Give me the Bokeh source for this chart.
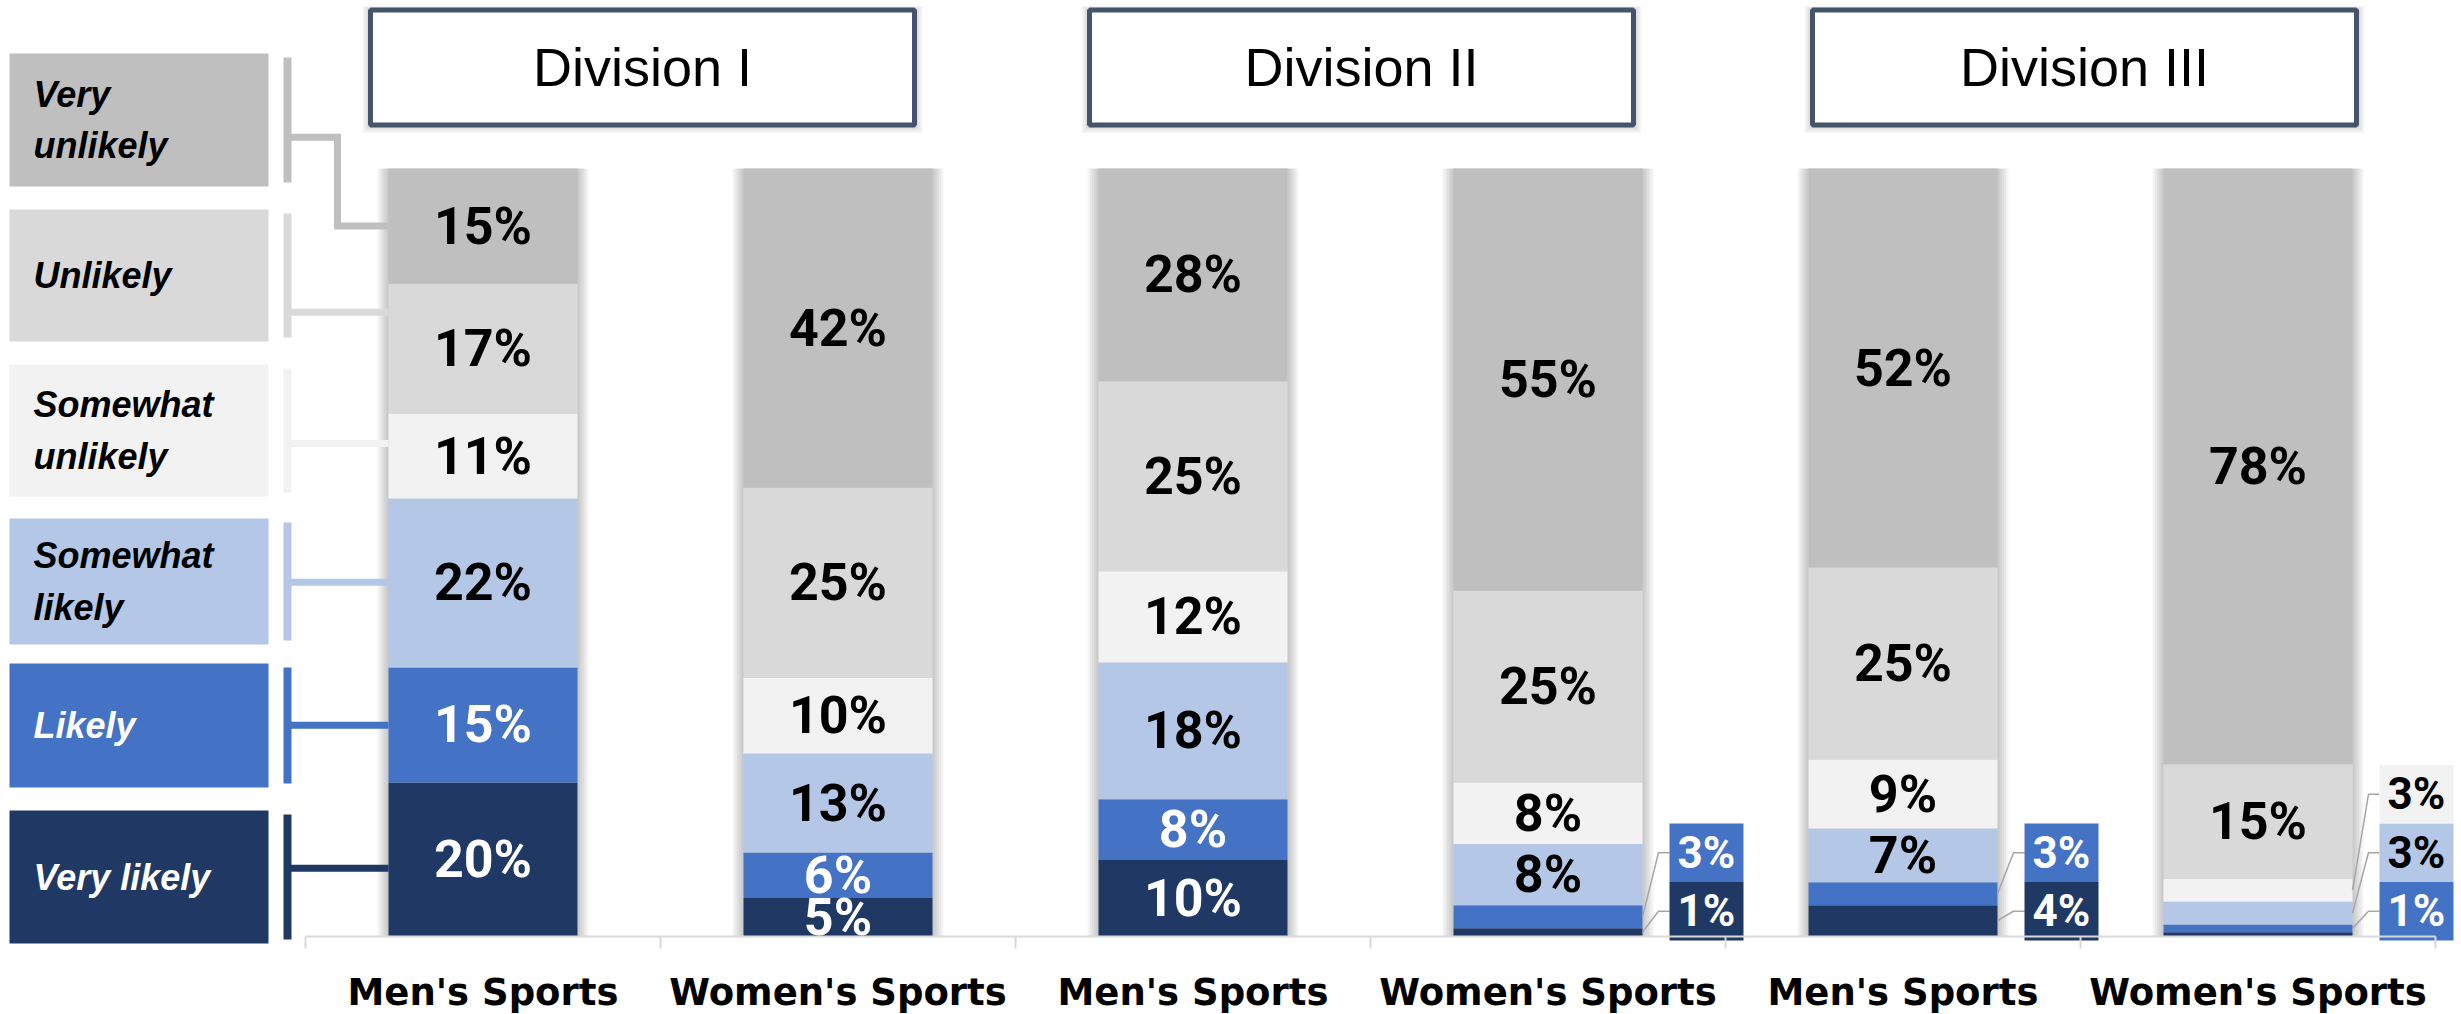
from bokeh.plotting import figure
from bokeh.models import Range1d, FixedTicker, ColumnDataSource
from bokeh.core.properties import value
from bokeh.embed import file_html
from bokeh.resources import INLINE

# ------------------------------------------------------------------ data
divisions = ["Division I", "Division II", "Division III"]
groups = ["Men's Sports", "Women's Sports", "Men's Sports",
          "Women's Sports", "Men's Sports", "Women's Sports"]
# stacking order: bottom -> top
levels = ["Very likely", "Likely", "Somewhat likely",
          "Somewhat unlikely", "Unlikely", "Very unlikely"]
legend_labels = ["Very likely", "Likely", "Somewhat\nlikely",
                 "Somewhat\nunlikely", "Unlikely", "Very\nunlikely"]

very_likely       = [20, 5, 10, 1, 4, 0.5]
likely            = [15, 6, 8, 3, 3, 1]
somewhat_likely   = [22, 13, 18, 8, 7, 3]
somewhat_unlikely = [11, 10, 12, 8, 9, 3]
unlikely          = [17, 25, 25, 25, 25, 15]
very_unlikely     = [15, 42, 28, 55, 52, 78]

series = [very_likely, likely, somewhat_likely,
          somewhat_unlikely, unlikely, very_unlikely]

# ------------------------------------------------------------------ style
colors = ["#203864", "#4472C4", "#B4C7E7", "#F2F2F2", "#D9D9D9", "#BFBFBF"]
text_colors = ["white", "white", "black", "black", "black", "black"]
BORDER = "#44546A"
LEADER = "#A6A6A6"

# ------------------------------------------------------------------ layout calibration (screen px <-> data)
W, H = 2461, 1014
X0, XS = 482.5, 355.0      # screen x of first category centre, px per category
Y0, YS = 935.5, 7.675      # screen y of 0 %, px per percentage point


def dx(px):
    return (px - X0) / XS


def dy(py):
    return (Y0 - py) / YS


BAR_W = 189 / XS
n = len(groups)
idx = list(range(n))

p = figure(width=W, height=H, output_backend="svg", toolbar_location=None,
           x_range=Range1d(dx(0), dx(W)), y_range=Range1d(dy(H), dy(0)),
           min_border=0, y_axis_location=None)
p.grid.visible = False
p.outline_line_color = None
p.background_fill_color = "white"
p.border_fill_color = "white"

# normalised stacks
totals = [sum(s[i] for s in series) for i in idx]
bottoms, tops = [], []
run = [0.0] * n
for s in series:
    b = run[:]
    t = [run[i] + s[i] * 100.0 / totals[i] for i in idx]
    bottoms.append(b)
    tops.append(t)
    run = t

# ------------------------------------------------------------------ title boxes
TITLE_SHIFT = [-18, -9, 4]
TITLE_HALF = 272
for d, name in enumerate(divisions):
    cx = 2 * d + 0.5 + TITLE_SHIFT[d] / XS
    for k in range(1, 6):
        e = k * 1.6
        p.quad(left=cx - (TITLE_HALF + e) / XS, right=cx + (TITLE_HALF + e) / XS,
               top=dy(9.5 - e * 0.5), bottom=dy(124.5 + e),
               fill_color="black", fill_alpha=0.035, line_color=None)
    p.quad(left=cx - TITLE_HALF / XS, right=cx + TITLE_HALF / XS,
           top=dy(9.5), bottom=dy(124.5),
           fill_color="white", line_color=BORDER, line_width=5)
    p.text(x=[cx], y=[dy(66)], text=[name], text_font=value("Liberation Sans"),
           text_font_size="54px", text_align="center", text_baseline="middle",
           text_color="black")

# ------------------------------------------------------------------ bar shadows
for k in range(1, 6):
    e = k * 2.2 / XS
    p.quad(left=[i - BAR_W / 2 - e for i in idx], right=[i + BAR_W / 2 + e for i in idx],
           bottom=0, top=100, fill_color="black", fill_alpha=0.045, line_color=None)

# ------------------------------------------------------------------ stacked bars
for k, lev in enumerate(levels):
    src = ColumnDataSource(dict(x=idx, bottom=bottoms[k], top=tops[k]))
    p.vbar(x="x", bottom="bottom", top="top", width=BAR_W, source=src,
           fill_color=colors[k], line_color=None)

# in-bar labels
lx, ly, lt, lc = [], [], [], []
for k in range(len(levels)):
    for i in idx:
        v = series[k][i]
        if v >= 5:
            lx.append(i)
            ly.append((bottoms[k][i] + tops[k][i]) / 2)
            lt.append(f"{v:g}%")
            lc.append(text_colors[k])
p.text(x="x", y="y", text="t", text_color="c",
       source=ColumnDataSource(dict(x=lx, y=ly, t=lt, c=lc)),
       text_font=value("Roboto"), text_font_style="bold", text_font_size="52px",
       text_align="center", text_baseline="middle")

# callouts for small segments
BOX_H = 58.5 / YS
BOX_W = 74 / XS
BOX_BASE = dy(940)
cl, cr, cb, ct, cf = [], [], [], [], []
tx, ty, tt, tc = [], [], [], []
lxs, lys = [], []
for i in idx:
    slot = 0
    for k in range(len(levels)):
        v = series[k][i]
        if 1 <= v < 5:
            left = i + BAR_W / 2 + 27 / XS
            bot = BOX_BASE + slot * BOX_H
            cl.append(left)
            cr.append(left + BOX_W)
            cb.append(bot)
            ct.append(bot + BOX_H)
            cf.append(colors[k])
            tx.append(left + BOX_W / 2)
            ty.append(bot + BOX_H / 2)
            tt.append(f"{v:g}%")
            tc.append(text_colors[k])
            mid = (bottoms[k][i] + tops[k][i]) / 2
            lxs.append([i + BAR_W / 2, left - 11 / XS, left])
            lys.append([mid, bot + BOX_H / 2, bot + BOX_H / 2])
            slot += 1
p.multi_line(xs=lxs, ys=lys, line_color=LEADER, line_width=1.5)
p.quad(left=cl, right=cr, bottom=cb, top=ct, fill_color=cf, line_color=None)
p.text(x="x", y="y", text="t", text_color="c",
       source=ColumnDataSource(dict(x=tx, y=ty, t=tt, c=tc)),
       text_font=value("Roboto"), text_font_style="bold", text_font_size="44px",
       text_align="center", text_baseline="middle")

# ------------------------------------------------------------------ legend (top -> bottom)
LEG_TOP = [53, 209, 364, 518, 663, 810]
LEG_BOT = [186, 341, 496, 644, 787, 943]
bar0_left = 0 - BAR_W / 2
for j in range(len(levels)):
    k = len(levels) - 1 - j
    top_px, bot_px = LEG_TOP[j], LEG_BOT[j]
    p.quad(left=dx(9), right=dx(268), top=dy(top_px), bottom=dy(bot_px),
           fill_color=colors[k], line_color=None)
    p.text(x=[dx(33)], y=[dy((top_px + bot_px) / 2)], text=[legend_labels[k]],
           text_font=value("Liberation Sans"), text_font_style="bold italic",
           text_font_size="36px", text_align="left", text_baseline="middle",
           text_line_height=1.25, text_color=text_colors[k])
    # bracket
    p.quad(left=dx(283), right=dx(291), top=dy(top_px + 4), bottom=dy(bot_px - 4),
           fill_color=colors[k], line_color=None)
    # leader to first bar
    seg_mid = (bottoms[k][0] + tops[k][0]) / 2
    box_mid = dy((top_px + bot_px) / 2)
    if abs(seg_mid - box_mid) * YS > 90:
        yb = dy(top_px + 0.63 * (bot_px - top_px))
        ys = seg_mid
    else:
        yb = ys = (seg_mid + box_mid) / 2
    p.line(x=[dx(287), dx(337), dx(337), bar0_left], y=[yb, yb, ys, ys],
           line_color=colors[k], line_width=7, line_join="miter")

# ------------------------------------------------------------------ category axis
ax = p.xaxis[0]
ax.ticker = FixedTicker(ticks=idx, minor_ticks=[i - 0.5 for i in range(n + 1)])
ax.major_label_overrides = {i: g for i, g in enumerate(groups)}
ax.fixed_location = 0
ax.bounds = (-0.5, n - 0.5)
ax.axis_line_color = "#D9D9D9"
ax.axis_line_width = 2
ax.major_tick_line_color = None
ax.major_tick_out = 0
ax.major_tick_in = 0
ax.minor_tick_line_color = "#D9D9D9"
ax.minor_tick_line_width = 2
ax.minor_tick_out = 12
ax.minor_tick_in = 0
ax.major_label_standoff = 23
ax.major_label_text_font = "DejaVu Sans"
ax.major_label_text_font_style = "bold"
ax.major_label_text_font_size = "37px"
ax.major_label_text_color = "black"

open("out.html", "w").write(file_html(p, INLINE))
